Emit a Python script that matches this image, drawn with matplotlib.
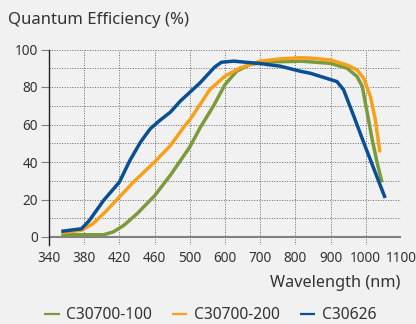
"""Quantum efficiency curves for three photodiodes."""

import matplotlib

matplotlib.use("Agg")
import matplotlib.pyplot as plt
import numpy as np

# tick wavelengths (axis is piecewise: 40 nm steps up to 500, then 100 nm steps)
tick_wl = [340, 380, 420, 460, 500, 600, 700, 800, 900, 1000, 1100]

green_wl = [354, 380, 402, 413, 425, 440, 460, 478, 500, 530, 567, 600, 633, 671, 719, 786, 814,
            900, 947, 975, 990, 1004, 1018, 1032, 1046]
green_qe = [1.2, 1.2, 1.2, 2.7, 6.2, 12.4, 22, 33, 48, 58.5, 69.8, 81.3, 88.4, 92, 93.4, 93.6, 93.8,
            92.6, 90, 85.6, 80.3, 66.2, 52.1, 39.8, 29.2]

orange_wl = [354, 377, 390, 402, 420, 436, 460, 478, 493, 500, 529, 557, 600, 643, 700, 757, 814,
             843, 900, 947, 975, 994, 1013, 1027, 1040]
orange_qe = [2.3, 3.6, 7.1, 12.4, 21.3, 29.3, 40, 48.8, 58.5, 62.5, 70.6, 78.6, 85.8, 90.2, 93.8, 95, 95.6,
             95.4, 94.4, 91.7, 89.1, 84.7, 75, 62.7, 45.1]

blue_wl = [354, 377, 386, 402, 420, 432, 444, 455, 466, 478, 489, 529, 571, 590, 624, 700, 757,
           814, 843, 918, 937, 966, 994, 1023, 1055]
blue_qe = [3, 4.4, 8.9, 19.5, 29.3, 40.9, 50.6, 57.7, 62.2, 66.6, 72.4, 82.2, 90.7, 93.2, 93.8, 92.5, 91.1,
           88.4, 87.3, 82.9, 78.5, 64.4, 50.4, 36.3, 20.8]

labels = ["C30700-100", "C30700-200", "C30626"]
colors = ["#7b9a3c", "#f7a11a", "#0a4f94"]

tick_pos = np.arange(len(tick_wl), dtype=float)


def fwd(w):
    return np.interp(w, tick_wl, tick_pos, left=-1e3, right=1e3)


def inv(p):
    return np.interp(p, tick_pos, tick_wl, left=-1e5, right=1e5)


plt.rcParams["font.family"] = ["Noto Sans", "DejaVu Sans"]
TXT = "#333333"

fig = plt.figure(figsize=(4.16, 3.24), dpi=100, facecolor="#f1f1f1")
ax = fig.add_axes([49 / 416, 1 - 244.5 / 324, (401 - 49) / 416, (244.5 - 49.5) / 324])
ax.set_facecolor("#f1f1f1")
ax.set_xscale("function", functions=(fwd, inv))

for wl, qe, lab, col in zip([green_wl, orange_wl, blue_wl], [green_qe, orange_qe, blue_qe], labels, colors):
    ax.plot(wl, qe, color=col, lw=2.5, label=lab, solid_capstyle="butt", solid_joinstyle="round", zorder=3)

ax.set_xlim(340, 1100)
ax.set_ylim(-4, 100)
ax.set_xticks(tick_wl)
ax.set_xticklabels([str(t) for t in tick_wl])
ax.set_yticks(np.arange(0, 101, 20))
ax.set_yticks(np.arange(10, 100, 20), minor=True)

dot = (0, (1, 1.6))
ax.grid(True, which="both", axis="y", color="#666666", lw=0.7, ls=dot)
ax.grid(True, which="major", axis="x", color="#666666", lw=0.7, ls=dot)
ax.axhline(0, color="#808080", lw=1.5, zorder=2)

for s in ["top", "right", "bottom"]:
    ax.spines[s].set_visible(False)
ax.spines["left"].set_color("#222222")
ax.spines["left"].set_linewidth(1.0)

ax.tick_params(axis="x", length=0, pad=5, labelsize=9.8, labelcolor=TXT)
ax.tick_params(axis="y", which="major", length=6, color="#808080", labelsize=9.8, labelcolor=TXT, pad=2)
ax.tick_params(axis="y", which="minor", length=0)

fig.text(8 / 416, 1 - 20 / 324, "Quantum Efficiency (%)", fontsize=12, color=TXT, va="center", ha="left")
fig.text(400 / 416, 1 - 283 / 324, "Wavelength (nm)", fontsize=11.7, color=TXT, va="center", ha="right")

leg = fig.legend(
    loc="center",
    bbox_to_anchor=(0.505, 1 - 315 / 324),
    ncol=3,
    frameon=False,
    fontsize=11.2,
    handlelength=1.0,
    handletextpad=0.4,
    columnspacing=1.3,
    labelcolor=TXT,
)
for line in leg.get_lines():
    line.set_linewidth(1.6)

fig.savefig("out.png", dpi=100, facecolor=fig.get_facecolor())
